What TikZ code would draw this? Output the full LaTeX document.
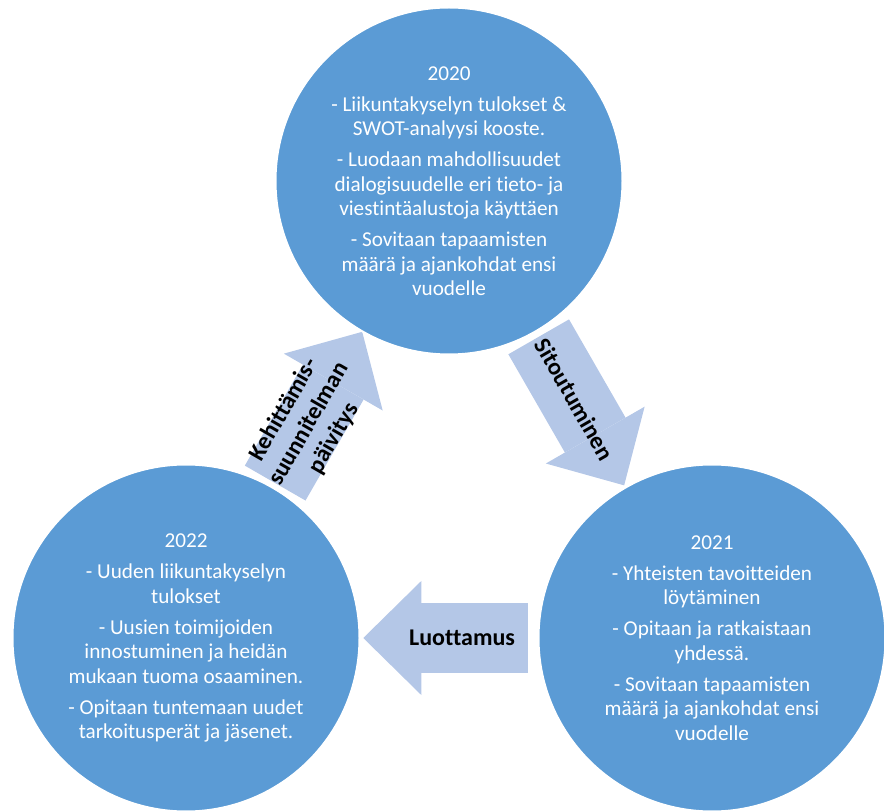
\documentclass[tikz,border=0pt]{standalone}
\usepackage{fontspec}
\setmainfont{Carlito}[Ligatures=NoCommon]
\usetikzlibrary{arrows.meta,calc,backgrounds}
\definecolor{phaseblue}{RGB}{91,155,213}
\definecolor{flowblue}{RGB}{180,199,231}

\begin{document}
\begin{tikzpicture}[x=0.5pt, y=-0.5pt,
    phase/.style={circle, fill=phaseblue, draw=white, line width=1pt, minimum size=173.5pt, inner sep=0pt,
                  align=center, text=white, font=\fontsize{10.6}{12.25}\selectfont},
    flow/.style={line width=35pt, draw=flowblue, -{Triangle[width=57pt, length=29pt, line width=0pt]}},
    flowtext/.style={sloped, align=center, font=\fontsize{12}{14.4}\selectfont\bfseries}]
  \useasboundingbox (0,0) rectangle (884,812);

  \node[phase] (y2020) at (449,181) {2020\\[3.25pt]
    - Liikuntakyselyn tulokset \&\\SWOT-analyysi kooste.\\[3.25pt]
    - Luodaan mahdollisuudet\\dialogisuudelle eri tieto- ja\\viestintäalustoja käyttäen\\[3.25pt]
    - Sovitaan tapaamisten\\määrä ja ajankohdat ensi\\vuodelle};
  \node[phase] (y2021) at (712,638) {2021\\[3.25pt]
    - Yhteisten tavoitteiden\\löytäminen\\[3.25pt]
    - Opitaan ja ratkaistaan\\yhdessä.\\[3.25pt]
    - Sovitaan tapaamisten\\määrä ja ajankohdat ensi\\vuodelle};
  \node[phase] (y2022) at (186,638) {2022\\[3.25pt]
    - Uuden liikuntakyselyn\\tulokset\\[3.25pt]
    - Uusien toimijoiden\\innostuminen ja heidän\\mukaan tuoma osaaminen.\\[3.25pt]
    - Opitaan tuntemaan uudet\\tarkoitusperät ja jäsenet.};

  \begin{scope}[on background layer]
    \draw[flow] ($(y2020)!0.341!(y2021)$) -- node[flowtext, pos=0.42] (sit) {Sitoutuminen} ($(y2020)!0.666!(y2021)$);
    \draw[flow] ($(y2021)!0.35!(y2022)$) -- node[flowtext, pos=0.40] (luo) {Luottamus} ($(y2021)!0.663!(y2022)$);
    \draw[flow] ($(y2022)!0.339!(y2020)$) -- node[flowtext, pos=0.39] (keh) {Kehittämis-\\suunnitelman\\päivitys} ($(y2022)!0.670!(y2020)$);
  \end{scope}
\end{tikzpicture}
\end{document}
